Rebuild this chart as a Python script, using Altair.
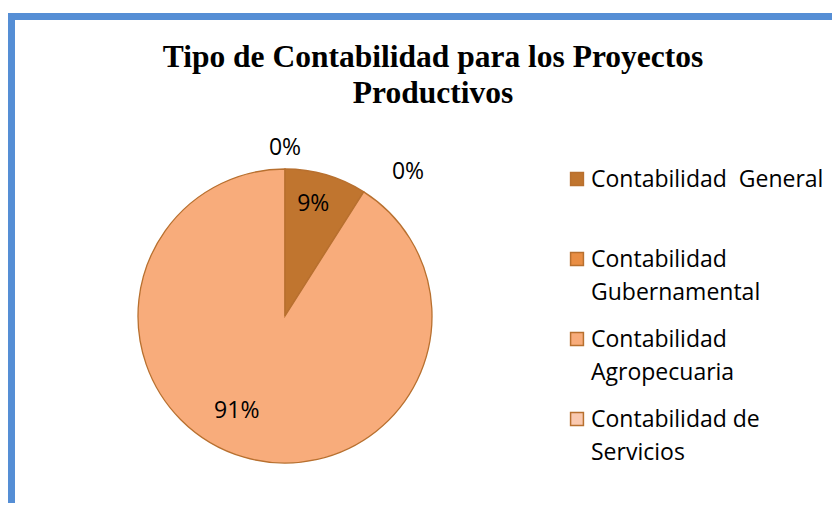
import altair as alt
import pandas as pd

# ---- data ----
categories = ["Contabilidad  General", "Contabilidad Gubernamental",
              "Contabilidad Agropecuaria", "Contabilidad de Servicios"]
legend_labels = ["Contabilidad\u00a0\u00a0General", "Contabilidad\nGubernamental",
                 "Contabilidad\nAgropecuaria", "Contabilidad de\nServicios"]
values = [9, 0, 91, 0]
pct_labels = ["9%", "0%", "91%", "0%"]
colors = ["#C0752F", "#E98E44", "#F8AC7B", "#FAC9B0"]
title_lines = ["Tipo de Contabilidad para los Proyectos", "Productivos"]

df = pd.DataFrame({
    "cat": categories,
    "legend": legend_labels,
    "value": values,
    "label": pct_labels,
    "order": list(range(len(categories))),
})

W, H = 824, 495
CX, CY, R = 277, 308, 147
STROKE = "#B8702F"
FONT = "Open Sans"

color_scale = alt.Scale(domain=categories, range=colors)

base = alt.Chart(df).transform_window(
    cum="sum(value)", sort=[alt.SortField("order")]
).transform_calculate(
    mid="datum.cum - datum.value / 2"
)

theta_scale = alt.Scale(domain=[0, 100], range=[0, 6.283185307179586])

pie = alt.Chart(df).mark_arc(
    radius=R, stroke=STROKE, strokeWidth=1.3
).encode(
    theta=alt.Theta("value:Q", stack=True),
    order=alt.Order("order:Q"),
    color=alt.Color("cat:N", scale=color_scale, legend=None),
    x=alt.value(CX), y=alt.value(CY),
)

def lbl(cat, radius, dx=0, dy=0):
    return base.transform_filter(alt.datum.cat == cat).mark_text(
        radius=radius, font=FONT, fontSize=23, color="#000000",
        align="center", baseline="middle", dx=dx, dy=dy
    ).encode(
        theta=alt.Theta("mid:Q", scale=theta_scale),
        text="label:N",
        x=alt.value(CX), y=alt.value(CY),
    )

labels = (lbl(categories[0], 112, -3, -4) + lbl(categories[2], 112, -17, -13)
          + lbl(categories[1], 168, 33, -2) + lbl(categories[3], 168, 0, 0))

leg_y = alt.Y("cat:N", scale=alt.Scale(domain=categories, range=[171, 411], padding=0),
              axis=None)

leg_sym = alt.Chart(df).mark_square(
    size=165, stroke=STROKE, strokeWidth=1.5, opacity=1
).encode(
    x=alt.value(569), y=leg_y,
    fill=alt.Color("cat:N", scale=color_scale, legend=None),
)

leg_txt = alt.Chart(df).mark_text(
    align="left", baseline="alphabetic", font=FONT, fontSize=23,
    lineBreak="\n", lineHeight=33, dy=8, color="#000000"
).encode(
    x=alt.value(583), y=leg_y, text="legend:N",
)

legend = alt.layer(leg_sym, leg_txt)

title_df = pd.DataFrame({"t": title_lines, "i": ["a", "b"]})
title = alt.Chart(title_df).mark_text(
    font="Liberation Serif", fontWeight="bold", fontSize=31.5,
    align="center", baseline="alphabetic", color="#000000"
).encode(
    x=alt.value(425),
    y=alt.Y("i:N", scale=alt.Scale(domain=["a", "b"], range=[59, 95], padding=0),
            axis=None),
    text="t:N",
)

border_v = alt.Chart(df).mark_rule(color="#558ED5", strokeWidth=7).encode(
    x=alt.value(3.5), x2=alt.value(3.5), y=alt.value(6), y2=alt.value(H))
border_h = alt.Chart(df).mark_rule(color="#558ED5", strokeWidth=7).encode(
    x=alt.value(0), x2=alt.value(W), y=alt.value(8.5), y2=alt.value(8.5))

chart = alt.layer(
    border_v, border_h, pie, labels, legend, title
).resolve_scale(
    y="independent"
).properties(
    width=W, height=H, padding=0,
    autosize=alt.AutoSizeParams(type="none"),
).configure_view(stroke=None)

chart.save("out.html", embed_options={"renderer": "svg", "actions": False})
